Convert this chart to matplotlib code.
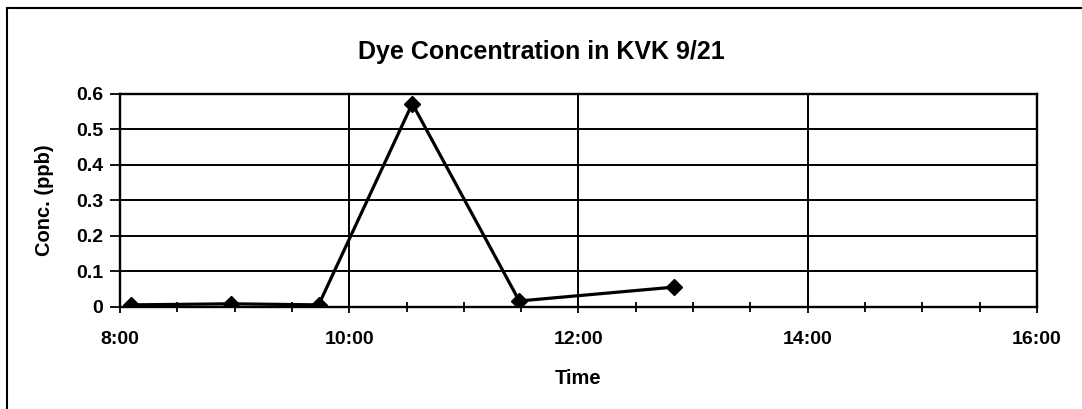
import numpy as np
import matplotlib
matplotlib.use("Agg")
import matplotlib.pyplot as plt
from matplotlib.ticker import MultipleLocator, FuncFormatter
from matplotlib.lines import Line2D

plt.rcParams['font.family'] = ['Liberation Sans', 'DejaVu Sans']

# sample times and dye readings
times = ["8:06", "8:58", "9:44", "10:33", "11:29", "12:50"]
conc = [0.006, 0.009, 0.006, 0.573, 0.017, 0.056]

title = "Dye Concentration in KVK 9/21"
xlabel = "Time"
ylabel = "Conc. (ppb)"


def to_hours(s):
    h, m = s.split(":")
    return int(h) + int(m) / 60.0


def hhmm(v, pos=None):
    h = int(v)
    m = int(round((v - h) * 60))
    return "%d:%02d" % (h, m)


hours = np.array([to_hours(t) for t in times])

fig = plt.figure(figsize=(10.82, 4.09), dpi=100)
ax = fig.add_axes([0.1109, 0.2494, 0.8475, 0.5208])

ax.plot(hours, conc, color='black', lw=2.3, marker='D', markersize=8,
        markerfacecolor='black', markeredgecolor='black', zorder=5)

ax.set_xlim(8, 16)
ax.set_ylim(0, 0.6)
ax.xaxis.set_major_locator(MultipleLocator(2))
ax.xaxis.set_minor_locator(MultipleLocator(0.5))
ax.xaxis.set_major_formatter(FuncFormatter(hhmm))
ax.yaxis.set_major_locator(MultipleLocator(0.1))
ax.yaxis.set_major_formatter(FuncFormatter(lambda v, p: "0" if abs(v) < 1e-9 else "%.1f" % v))

ax.grid(True, which='major', color='black', lw=1.4)
for s in ax.spines.values():
    s.set_color('black')
    s.set_linewidth(1.7)

ax.tick_params(axis='x', which='both', direction='inout', length=9, width=1.3,
               labelsize=14, pad=13)
ax.tick_params(axis='x', which='minor', length=7)
ax.tick_params(axis='y', direction='out', length=7, width=1.3, labelsize=14, pad=5)
for lab in ax.get_xticklabels() + ax.get_yticklabels():
    lab.set_fontweight('bold')

ax.set_xlabel(xlabel, fontsize=14.5, fontweight='bold', labelpad=15)
ax.set_ylabel(ylabel, fontsize=14.5, fontweight='bold', labelpad=16)
fig.text(0.5, 0.872, title, ha='center', va='center', fontsize=18, fontweight='bold')

# chart area border (left and top edges)
fig.add_artist(Line2D([0.0065, 0.0065], [0, 0.980], color='black', lw=1.5))
fig.add_artist(Line2D([0.0065, 1.0], [0.980, 0.980], color='black', lw=1.5))

fig.savefig("out.png", dpi=100)
